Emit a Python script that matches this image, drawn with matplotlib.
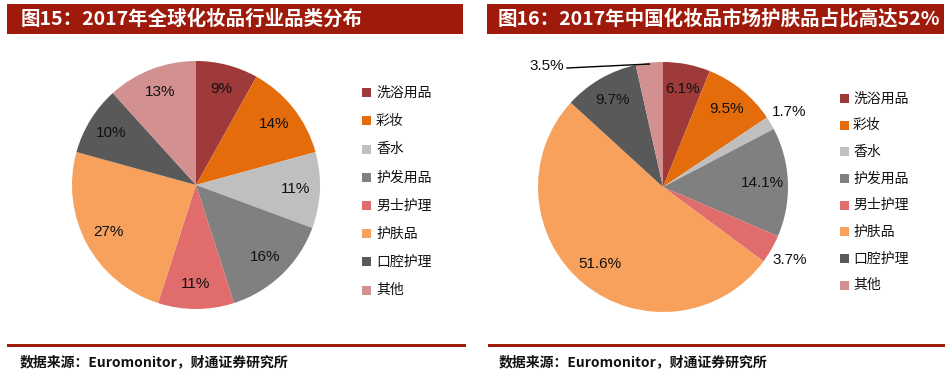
import matplotlib
matplotlib.use("Agg")
import matplotlib.pyplot as plt
from matplotlib.patches import Rectangle
import numpy as np

plt.rcParams['font.family'] = ['Noto Sans CJK SC', 'DejaVu Sans']

categories = ["洗浴用品", "彩妆", "香水", "护发用品", "男士护理", "护肤品", "口腔护理", "其他"]
colors = ["#9E3A3A", "#E46C0A", "#BFBFBF", "#808080", "#E06C6C", "#F7A15C", "#595959", "#D29090"]
global_values = [9, 14, 11, 16, 11, 27, 10, 13]
global_labels = ["9%", "14%", "11%", "16%", "11%", "27%", "10%", "13%"]
china_values = [6.1, 9.5, 1.7, 14.1, 3.7, 51.6, 9.7, 3.5]
china_labels = ["6.1%", "9.5%", "1.7%", "14.1%", "3.7%", "51.6%", "9.7%", "3.5%"]
title_left = "图15：2017年全球化妆品行业品类分布"
title_right = "图16：2017年中国化妆品市场护肤品占比高达52%"
source_text = "数据来源：Euromonitor，财通证券研究所"

W, H = 953, 380
DPI = 100
fig = plt.figure(figsize=(W / DPI, H / DPI), dpi=DPI)
BAR = "#9E1B0B"

def fx(x):
    return x / W

def fy(y):
    return 1 - y / H

def px_axes(cx, cy, r):
    ax = fig.add_axes([fx(cx - r), fy(cy + r), 2 * r / W, 2 * r / H])
    return ax

def finish(ax):
    ax.set_xlim(-1, 1)
    ax.set_ylim(-1, 1)
    ax.set_aspect('equal')
    ax.axis('off')

# title bars and bottom lines
for (x0, x1, title, tx) in [(7, 463, title_left, 21), (487, 944, title_right, 498)]:
    fig.patches.append(Rectangle((fx(x0), fy(34)), (x1 - x0) / W, 30 / H,
                                 transform=fig.transFigure, facecolor=BAR, edgecolor='none'))
    fig.text(fx(tx), fy(19), title, color='white', fontsize=14, fontweight='bold',
             ha='left', va='center')
for (x0, x1, sx) in [(7, 466, 20), (488, 945, 499)]:
    fig.patches.append(Rectangle((fx(x0), fy(346.5)), (x1 - x0) / W, 3 / H,
                                 transform=fig.transFigure, facecolor=BAR, edgecolor='none'))
    fig.text(fx(sx), fy(362), source_text, color='#111111', fontsize=10, fontweight='bold',
             ha='left', va='center')

# left pie
ax1 = px_axes(196, 185, 124)
w1, _ = ax1.pie(global_values, colors=colors, startangle=90, counterclock=False,
                radius=1, wedgeprops=dict(linewidth=0))
finish(ax1)
for w, lab in zip(w1, global_labels):
    ang = np.deg2rad((w.theta1 + w.theta2) / 2)
    ax1.text(0.8 * np.cos(ang), 0.8 * np.sin(ang), lab, ha='center', va='center',
             fontsize=11, family=['Liberation Sans'], color='#111111')

# right pie
ax2 = px_axes(663, 187, 125)
w2, _ = ax2.pie(china_values, colors=colors, startangle=90, counterclock=False,
                radius=1, wedgeprops=dict(linewidth=0))
finish(ax2)
for i, (w, lab) in enumerate(zip(w2, china_labels)):
    ang = np.deg2rad((w.theta1 + w.theta2) / 2)
    if lab in ("1.7%", "3.7%"):
        d = 1.17
        ax2.text(d * np.cos(ang), d * np.sin(ang), lab, ha='center', va='center',
                 fontsize=11, family=['Liberation Sans'], color='#111111')
    elif lab == "3.5%":
        ex, ey = 0.99 * np.cos(ang), 0.99 * np.sin(ang)
        lx, ly = (567 - 663) / 125, (187 - 68) / 125
        ax2.plot([ex, lx], [ey, ly], color='black', lw=1, clip_on=False)
        ax2.text(lx - 0.02, ly + 0.02, lab, ha='right', va='center',
                 fontsize=11, family=['Liberation Sans'], color='#111111')
    else:
        ax2.text(0.8 * np.cos(ang), 0.8 * np.sin(ang), lab, ha='center', va='center',
                 fontsize=11, family=['Liberation Sans'], color='#111111')

# legends
for (sqx, txx, y0, dy) in [(362, 376, 92.7, 28.2), (840, 853, 98.3, 26.7)]:
    for i, (cat, c) in enumerate(zip(categories, colors)):
        yc = y0 + i * dy
        fig.patches.append(Rectangle((fx(sqx), fy(yc + 4.5)), 9 / W, 9 / H,
                                     transform=fig.transFigure, facecolor=c, edgecolor='none'))
        fig.text(fx(txx), fy(yc), cat, fontsize=10, color='#111111', ha='left', va='center')

fig.savefig("out.png", dpi=DPI)
